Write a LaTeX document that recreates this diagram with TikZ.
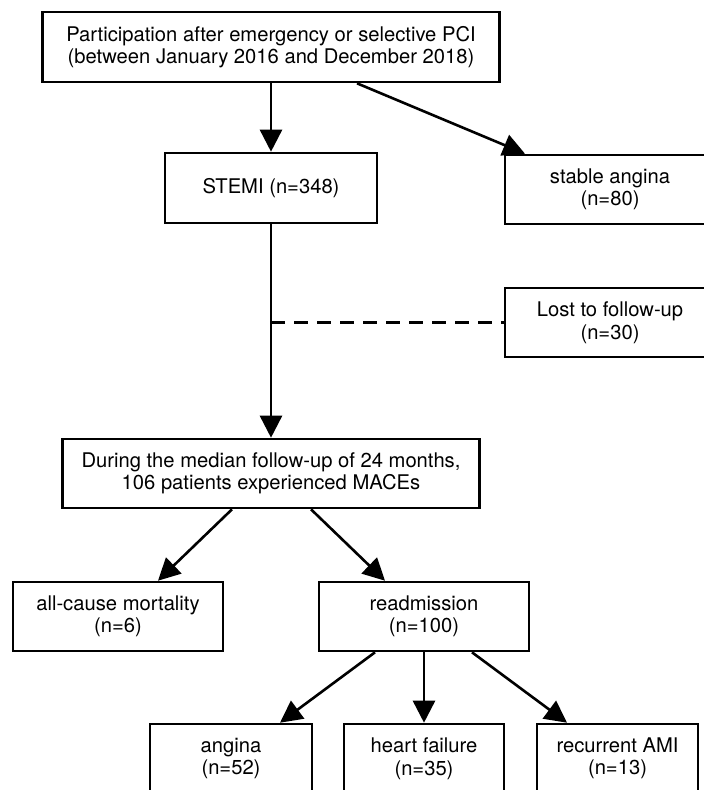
\documentclass[tikz,border=0pt]{standalone}
\usepackage{fontspec}
\setmainfont{TeX Gyre Heros}
\usetikzlibrary{arrows.meta}

\tikzset{
  box/.style={draw, line width=2.6pt, align=center, inner sep=0pt,
    minimum width=210pt, minimum height=69pt,
    font=\fontsize{20.2}{22.5}\selectfont},
  flow/.style={line width=2.6pt, -{Triangle[length=22pt,width=22pt]}},
  lostline/.style={line width=2.6pt, dash pattern=on 14pt off 9pt},
}

\begin{document}
\begin{tikzpicture}[x=1pt,y=-1pt]

  \useasboundingbox (0,0) rectangle (704,790);
  \clip (0,0) rectangle (704,790);

  \node[box, minimum width=457pt, minimum height=70pt] (pci) at (271,47)
    {Participation after emergency or selective PCI\\(between January 2016 and December 2018)};
  \node[box, minimum width=212pt, minimum height=70pt] (stemi) at (271,188) {STEMI (n=348)};
  \node[box] (stable) at (610,189.5) {stable angina\\(n=80)};
  \node[box] (lost) at (610,322.5) {Lost to follow-up\\(n=30)};

  \node[box, minimum width=417pt] (mace) at (271,473.5)
    {During the median follow-up of 24 months,\\106 patients experienced MACEs};

  \node[box] (death) at (118,616.5) {all-cause mortality\\(n=6)};
  \node[box] (readm) at (424,616.5) {readmission\\(n=100)};

  \node[box, minimum width=162pt] (angina) at (231,758.5) {angina\\(n=52)};
  \node[box, minimum width=160pt] (hf) at (424,758.5) {heart failure\\(n=35)};
  \node[box, minimum width=161pt] (ami) at (617.5,758.5) {recurrent AMI\\(n=13)};

  % first split
  \draw[flow] (pci.south) -- (stemi.north);
  \draw[flow] ([xshift=86pt]pci.south) -- ([xshift=-85pt]stable.north);

  % STEMI down to the follow-up
  \coordinate (branch) at (stemi.south |- lost.west);
  \draw[flow] (stemi.south) -- (mace.north);
  \draw[lostline] (branch) -- (lost.west);

  % outcomes
  \draw[flow] ([xshift=-39pt]mace.south) -- ([xshift=40pt]death.north);
  \draw[flow] ([xshift=40pt]mace.south) -- ([xshift=-39pt]readm.north);

  \draw[flow] ([xshift=-49pt]readm.south) -- ([xshift=49pt]angina.north);
  \draw[flow] (readm.south) -- (hf.north);
  \draw[flow] ([xshift=48pt]readm.south) -- ([xshift=-50.5pt]ami.north);

\end{tikzpicture}
\end{document}
